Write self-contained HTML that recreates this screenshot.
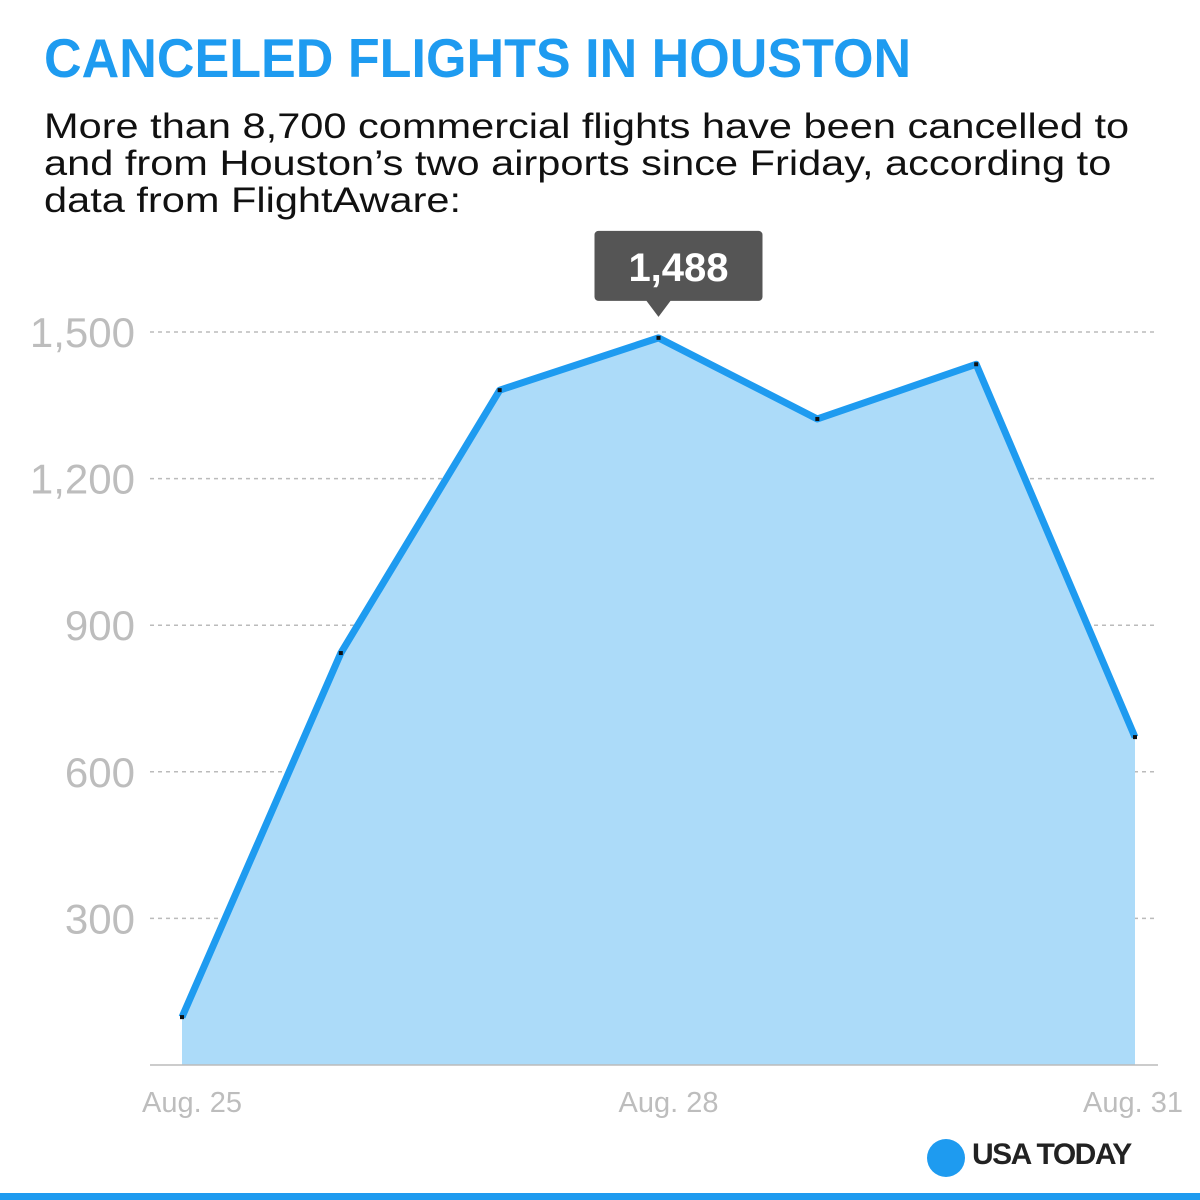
<!DOCTYPE html>
<html><head><meta charset="utf-8"><style>
body{margin:0;width:1200px;height:1200px;background:#fff;position:relative;overflow:hidden;font-family:"Liberation Sans",sans-serif}
.t{position:absolute;left:44px;top:26px;font-size:55px;font-weight:bold;color:#1e9bf0;white-space:nowrap;transform:scaleX(0.947);transform-origin:0 0}
.s{position:absolute;left:44px;top:108px;font-size:35.5px;line-height:37px;color:#111;white-space:nowrap;transform:scaleX(1.17);transform-origin:0 0}
</style></head><body>
<div class="t">CANCELED FLIGHTS IN HOUSTON</div>
<div class="s">More than 8,700 commercial flights have been cancelled to<br>and from Houston’s two airports since Friday, according to<br>data from FlightAware:</div>
<svg id="c" width="1200" height="1200" style="position:absolute;left:0;top:0"></svg>
<div style="position:absolute;left:927px;top:1139px;width:38px;height:38px;border-radius:50%;background:#1e9bf0"></div>
<div style="position:absolute;left:972px;top:1138px;font-size:30px;font-weight:bold;color:#222;letter-spacing:-1.5px">USA TODAY</div>
<div style="position:absolute;left:0;top:1193px;width:1200px;height:7px;background:#1e9bf0"></div>
<script>
const values=[98,843,1381,1488,1322,1434,671];
const yTicks=[300,600,900,1200,1500];
const yTickLabels=["300","600","900","1,200","1,500"];
const xLabels=["Aug. 25","","","Aug. 28","","","Aug. 31"];
const peakLabel="1,488";
const NS="http://www.w3.org/2000/svg",svg=document.getElementById('c');
const x=i=>182+i*(1135-182)/(values.length-1);
const y=v=>1065-v*(1065-332)/1500;
function mk(t,a,p){const e=document.createElementNS(NS,t);for(const k in a)e.setAttribute(k,a[k]);(p||svg).appendChild(e);return e;}
yTicks.forEach((t,i)=>{
 const l=mk('line',{x1:150,x2:1158,y1:y(t),y2:y(t),stroke:'#bbb','stroke-dasharray':'4,4','stroke-width':1.5});
 
 
 const tx=mk('text',{x:135,y:y(t)+15,'text-anchor':'end','font-size':42,fill:'#bdbdbd','font-family':'Liberation Sans'});
 tx.textContent=yTickLabels[i];
 
 
});
const pts=values.map((v,i)=>x(i)+','+y(v)).join(' ');
const a=mk('polygon',{points:x(0)+','+y(0)+' '+pts+' '+x(values.length-1)+','+y(0),fill:'#acdbf9'});


const ax=mk('line',{x1:150,x2:1158,y1:y(0),y2:y(0),stroke:'#bbb','stroke-width':1.5});


const ln=mk('polyline',{points:pts,fill:'none',stroke:'#1e9bf0','stroke-width':7,'stroke-linejoin':'round'});


values.forEach((v,i)=>{const d=mk('rect',{x:x(i)-2,y:y(v)-2,width:4,height:4,fill:'#111'});
 
 
 if(xLabels[i]){const tx=mk('text',{x:i==values.length-1?x(i)-2:x(i)+10,y:1112,'text-anchor':'middle','font-size':29,fill:'#bdbdbd','font-family':'Liberation Sans'});
 tx.textContent=xLabels[i];
 
 }
});
const pi=values.indexOf(Math.max(...values));
const px=x(pi),py=y(values[pi]);
const tip=mk('path',{d:`M${px-60},${py-107} h160 a4,4 0 0 1 4,4 v62 a4,4 0 0 1 -4,4 h-88 l-12,16 l-12,-16 h-48 a4,4 0 0 1 -4,-4 v-62 a4,4 0 0 1 4,-4 z`,fill:'#555'});


const tt=mk('text',{x:px+20,y:py-57,'text-anchor':'middle','font-size':40,'font-weight':'bold',fill:'#fff','font-family':'Liberation Sans'});
tt.textContent=peakLabel;


</script>
</body></html>
